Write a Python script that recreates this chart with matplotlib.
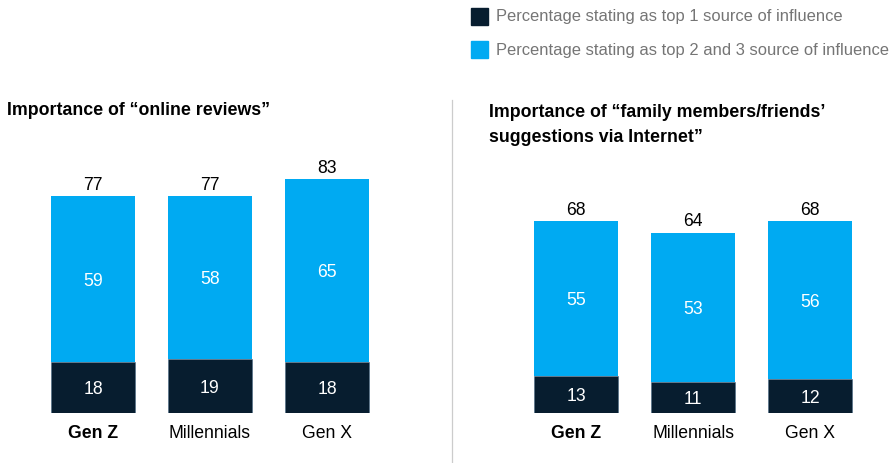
import matplotlib.pyplot as plt
from matplotlib.patches import Rectangle

plt.rcParams['font.family'] = ['Liberation Sans', 'DejaVu Sans']

generations = ["Gen Z", "Millennials", "Gen X"]
reviews_top1 = [18, 19, 18]
reviews_top23 = [59, 58, 65]
family_top1 = [13, 11, 12]
family_top23 = [55, 53, 56]

dark = "#071d2f"
light = "#00aaf2"

W, H = 894, 463
fig = plt.figure(figsize=(W / 100, H / 100), dpi=100)
fs = 12.7


def panel(left_px, top1, top23):
    ax = fig.add_axes([left_px / W, 50 / H, 351 / W, 282 / H])
    x = range(len(generations))
    ax.bar(x, top1, width=0.72, color=dark, edgecolor="#4a6a85", linewidth=0.4)
    ax.bar(x, top23, bottom=top1, width=0.72, color=light, linewidth=0)
    for i in x:
        ax.text(i, top1[i] / 2, str(top1[i]), ha="center", va="center_baseline",
                color="white", fontsize=fs)
        ax.text(i, top1[i] + top23[i] / 2, str(top23[i]), ha="center",
                va="center_baseline", color="white", fontsize=fs)
        ax.text(i, top1[i] + top23[i] + 0.8, str(top1[i] + top23[i]),
                ha="center", va="bottom", color="black", fontsize=fs)
    ax.set_xlim(-0.5, 2.5)
    ax.set_ylim(0, 100)
    ax.set_xticks(list(x))
    ax.set_xticklabels(generations, fontsize=fs)
    ax.get_xticklabels()[0].set_fontweight("bold")
    ax.tick_params(axis="x", length=0, pad=9)
    ax.set_yticks([])
    for s in ax.spines.values():
        s.set_visible(False)
    return ax


panel(34.5, reviews_top1, reviews_top23)
panel(517.5, family_top1, family_top23)

fig.text(7 / W, 1 - 110 / H, "Importance of \u201conline reviews\u201d",
         fontsize=12.8, fontweight="bold", va="center", ha="left")
fig.text(489 / W, 1 - 125 / H,
         "Importance of \u201cfamily members/friends\u2019\nsuggestions via Internet\u201d",
         fontsize=12.8, fontweight="bold", va="center", ha="left", linespacing=1.6)

# divider
fig.add_artist(plt.Line2D([452 / W, 452 / W], [0, 1 - 100 / H],
                          color="#cccccc", linewidth=0.9))

# legend
for y, c, lab in [(17, dark, "Percentage stating as top 1 source of influence"),
                  (50, light, "Percentage stating as top 2 and 3 source of influence")]:
    fig.add_artist(Rectangle((471 / W, 1 - (y + 8) / H), 17 / W, 17 / H,
                             color=c, transform=fig.transFigure))
    fig.text(496 / W, 1 - y / H, lab, fontsize=11.9, color="#757575",
             va="center", ha="left")

fig.savefig("out.png", dpi=100)
